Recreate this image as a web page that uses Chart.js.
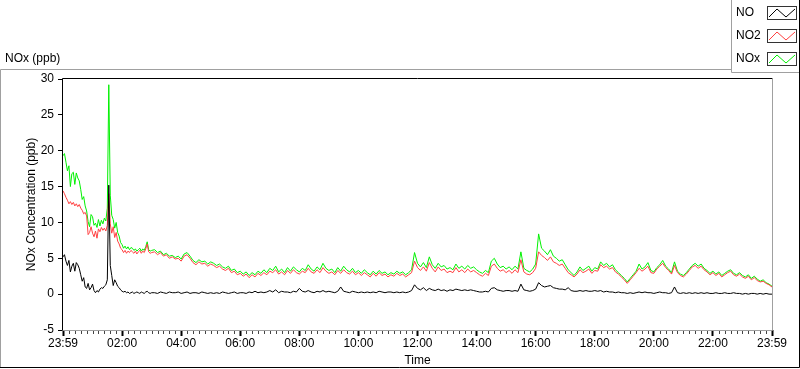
<!DOCTYPE html>
<html>
<head>
<meta charset="utf-8">
<title>NOx (ppb)</title>
<script src="https://cdn.jsdelivr.net/npm/chart.js@4.4.1/dist/chart.umd.min.js"></script>
<style>
    html, body { margin: 0; padding: 0; background: #fff; }
    #noxChart { display: block; }
</style>
</head>
<body>
<canvas id="noxChart" width="800" height="369"></canvas>
<script>
// x values are hours after 23:59 (0 .. 24)
// first 3 hours read every 3 min, the rest every 6 min
const earlyStep = 0.05;
const lateStart = 3.1;
const lateStep = 0.1;

const seriesNames = ["NO", "NO2", "NOx"];
const seriesColors = ["#000000", "#ff4040", "#00f000"];

const noEarly = [
    5.2, 5.5, 4.6, 4.0, 4.7, 3.1, 3.9, 4.3, 3.2, 4.4,
    4.1, 3.6, 2.7, 1.8, 2.3, 1.0, 0.8, 1.5, 0.6, 0.9,
    1.4, 0.5, 0.2, 0.5, 0.3, 0.7, 0.9, 0.8, 1.1, 1.3,
    2.0, 15.2, 4.0, 2.6, 1.2, 2.0, 1.6, 1.1, 0.9, 0.6,
    0.4, 0.3, 0.4, 0.2, 0.3, 0.1, 0.2, 0.3, 0.1, 0.2,
    0.3, 0.2, 0.1, 0.3, 0.2, 0.1, 0.3, 0.4, 0.2, 0.1,
    0.2
];
const no2Early = [
    14.4, 14.0, 13.5, 13.1, 12.6, 12.9, 12.5, 12.8, 12.3, 12.6,
    12.2, 12.5, 12.0, 11.7, 11.2, 11.4, 10.9, 8.3, 8.6, 9.4,
    8.5, 8.0, 8.8, 7.8, 9.1, 8.7, 9.3, 8.9, 9.2, 8.8,
    9.6, 14.0, 9.8, 8.5, 9.4, 7.9, 8.6, 7.4, 7.0, 6.4,
    6.2, 5.8, 6.1, 5.7, 6.0, 5.8, 6.1, 5.9, 5.7, 6.0,
    5.6, 5.9, 6.1, 5.7, 6.0, 5.8, 6.3, 7.0, 5.9, 5.7,
    5.8
];
const noxEarly = [
    19.3, 19.6, 18.4, 17.2, 17.9, 15.0, 16.8, 17.0, 15.3, 16.9,
    16.2, 15.8, 14.6, 13.2, 13.6, 12.3, 11.6, 10.1, 9.4, 11.1,
    10.8, 9.6, 9.9, 9.3, 10.4, 9.5, 10.3, 9.8, 10.6, 10.2,
    12.0, 29.2, 13.8, 11.0, 10.4, 9.2, 10.0, 8.6, 8.1, 7.2,
    6.9, 6.4, 6.7, 6.3, 6.6, 6.2, 6.5, 6.4, 6.1, 6.3,
    6.0, 6.2, 6.4, 6.0, 6.3, 6.1, 6.6, 7.3, 6.2, 6.0,
    6.1
];

// one row per hour, 3.1 .. 24.0
const noLate = [
    0.2, 0.1, 0.3, 0.2, 0.1, 0.3, 0.2, 0.2, 0.3, 0.1,
    0.2, 0.3, 0.1, 0.2, 0.2, 0.1, 0.3, 0.2, 0.1, 0.2,
    0.1, 0.2, 0.1, 0.3, 0.2, 0.1, 0.2, 0.3, 0.1, 0.2,
    0.2, 0.1, 0.3, 0.2, 0.4, 0.2, 0.3, 0.2, 0.3, 0.5,
    0.3, 0.6, 0.2, 0.4, 0.3, 0.3, 0.2, 0.4, 0.3, 0.8,
    0.4, 0.3, 0.5, 0.3, 0.2, 0.4, 0.3, 0.5, 0.3, 0.4,
    0.3, 0.2, 0.4, 1.0, 0.4, 0.3, 0.2, 0.4, 0.3, 0.2,
    0.3, 0.2, 0.3, 0.2, 0.3, 0.2, 0.4, 0.3, 0.2, 0.3,
    0.3, 0.2, 0.3, 0.2, 0.3, 0.2, 0.3, 0.5, 1.3, 0.8,
    0.6, 0.9, 0.5, 0.8, 0.6, 0.5, 0.7, 0.5, 0.6, 0.4,
    0.6, 0.5, 0.7, 0.6, 0.5, 0.6, 0.5, 0.6, 0.5, 0.4,
    0.3, 0.3, 0.4, 0.3, 0.8, 0.9, 0.6, 0.5, 0.4, 0.5,
    0.5, 0.4, 0.5, 0.4, 1.4, 0.6, 0.5, 0.4, 0.5, 0.7,
    1.6, 1.2, 1.0, 1.1, 1.2, 0.9, 0.8, 0.7, 0.7, 0.6,
    0.9, 0.5, 0.4, 0.4, 0.5, 0.4, 0.5, 0.4, 0.4, 0.5,
    0.4, 0.5, 0.3, 0.4, 0.3, 0.3, 0.2, 0.3, 0.2, 0.2,
    0.1, 0.2, 0.1, 0.2, 0.3, 0.2, 0.3, 0.2, 0.2, 0.1,
    0.2, 0.3, 0.2, 0.2, 0.1, 0.2, 1.0, 0.2, 0.1, 0.2,
    0.1, 0.2, 0.1, 0.2, 0.1, 0.2, 0.1, 0.2, 0.1, 0.1,
    0.2, 0.1, 0.1, 0.2, 0.1, 0.1, 0.2, 0.1, 0.1, 0.0,
    0.1, 0.0, 0.1, 0.1, 0.0, 0.1, 0.0, 0.1, 0.0, 0.0
];
const no2Late = [
    5.9, 5.5, 5.8, 5.3, 5.5, 5.0, 5.2, 4.9, 5.0, 4.6,
    5.3, 5.5, 5.0, 4.4, 4.1, 4.5, 4.2, 4.3, 3.9, 4.2,
    4.0, 3.7, 3.9, 3.5, 3.3, 3.6, 3.0, 3.2, 2.7, 2.9,
    2.5, 2.8, 2.3, 2.7, 2.4, 2.9, 2.6, 3.0, 2.7, 3.2,
    3.0, 3.4, 2.8, 3.1, 2.7, 3.3, 2.9, 3.4, 3.0, 2.8,
    3.2, 3.0, 3.6, 3.1, 2.9, 3.4, 3.0, 3.7, 3.2, 2.9,
    3.1, 2.7, 3.3, 2.9, 3.4, 3.0, 2.8, 3.2, 2.7, 3.0,
    2.6, 3.0, 2.7, 2.4, 2.9, 2.5, 3.0, 2.6, 2.8, 2.4,
    2.7, 2.5, 2.9, 2.6, 2.8, 2.4, 2.7, 3.0, 4.6, 3.7,
    3.3, 3.8, 3.2, 4.4, 3.6, 3.1, 3.8, 3.3, 3.5, 3.0,
    3.2, 3.0, 3.7, 3.1, 3.4, 3.0, 3.5, 3.1, 3.3, 3.0,
    2.7, 2.5, 2.9, 2.6, 3.9, 4.2, 3.6, 3.2, 3.4, 3.0,
    3.3, 2.9, 3.4, 3.0, 4.8, 3.1, 2.8, 2.7, 3.0, 3.6,
    5.9, 5.4, 5.1, 4.7, 5.2, 4.5, 4.3, 4.0, 4.2, 3.6,
    3.0, 2.7, 2.4, 2.8, 3.4, 3.0, 3.2, 3.5, 2.9, 3.3,
    3.2, 4.1, 3.7, 3.9, 3.5, 3.7, 3.1, 2.8, 2.4, 2.0,
    1.5, 2.0, 2.5, 3.0, 3.6, 3.2, 3.5, 3.9, 3.0, 2.9,
    3.5, 3.9, 4.3, 3.7, 3.3, 2.8, 4.0, 3.0, 2.6, 2.4,
    2.8, 3.3, 3.8, 4.0, 3.6, 3.9, 3.4, 3.1, 2.7, 3.0,
    2.6, 2.9, 2.4, 2.7, 3.0, 3.2, 2.7, 2.5, 2.8, 2.4,
    2.2, 2.5, 2.0, 2.3, 1.9, 1.7, 1.8, 1.5, 1.3, 1.0
];
const noxLate = [
    6.2, 5.8, 6.0, 5.5, 5.7, 5.3, 5.4, 5.1, 5.3, 4.9,
    5.6, 5.8, 5.3, 4.7, 4.4, 4.8, 4.5, 4.6, 4.2, 4.5,
    4.3, 4.0, 4.2, 3.8, 3.6, 3.9, 3.3, 3.5, 3.0, 3.2,
    2.8, 3.1, 2.6, 3.0, 2.7, 3.2, 2.9, 3.4, 3.0, 3.6,
    3.3, 3.9, 3.1, 3.5, 3.0, 3.7, 3.2, 3.8, 3.4, 3.1,
    3.6, 3.3, 4.1, 3.5, 3.2, 3.8, 3.4, 4.3, 3.6, 3.3,
    3.5, 3.0, 3.7, 3.2, 3.9, 3.4, 3.1, 3.6, 3.0, 3.3,
    2.9, 3.4, 3.0, 2.7, 3.2, 2.8, 3.3, 2.9, 3.1, 2.7,
    3.0, 2.8, 3.2, 2.9, 3.1, 2.7, 3.0, 3.4, 5.8, 4.3,
    3.8, 4.4, 3.7, 5.2, 4.1, 3.6, 4.3, 3.8, 4.0, 3.5,
    3.7, 3.4, 4.2, 3.6, 3.9, 3.5, 4.0, 3.6, 3.8, 3.4,
    3.1, 2.9, 3.3, 3.0, 4.6, 5.0, 4.2, 3.7, 3.9, 3.5,
    3.8, 3.4, 3.9, 3.5, 5.9, 3.6, 3.3, 3.1, 3.5, 4.2,
    8.4, 6.4, 6.0, 5.5, 6.2, 5.3, 5.0, 4.6, 4.8, 4.1,
    3.4, 3.0, 2.6, 3.1, 3.8, 3.3, 3.6, 3.9, 3.2, 3.7,
    3.5, 4.5, 4.0, 4.3, 3.8, 4.1, 3.4, 3.0, 2.6, 2.2,
    1.7, 2.2, 2.7, 3.2, 4.2, 3.5, 3.8, 4.4, 3.3, 3.1,
    3.7, 4.1, 4.7, 3.9, 3.5, 3.0, 4.5, 3.2, 2.8, 2.6,
    3.0, 3.5, 4.0, 4.3, 3.9, 4.2, 3.6, 3.3, 2.9, 3.2,
    2.8, 3.1, 2.6, 2.9, 3.2, 3.4, 2.9, 2.7, 3.0, 2.6,
    2.4, 2.7, 2.2, 2.5, 2.1, 1.8, 2.0, 1.6, 1.4, 1.1
];

const timeTicks = [0, 2, 4, 6, 8, 10, 12, 14, 16, 18, 20, 22, 24];
const timeLabels = ["23:59", "02:00", "04:00", "06:00", "08:00", "10:00", "12:00",
    "14:00", "16:00", "18:00", "20:00", "22:00", "23:59"];
const minorPerMajor = 10;

const FONT = "'Liberation Sans', Arial, sans-serif";

function toPoints(early, late) {
    const pts = early.map((v, i) => ({ x: i * earlyStep, y: v }));
    late.forEach((v, i) => pts.push({ x: lateStart + i * lateStep, y: v }));
    return pts;
}

// LabVIEW style frame, plot box, minor ticks and legend
const labviewFrame = {
    id: "labviewFrame",
    afterDraw(chart) {
        const { ctx, chartArea: a } = chart;
        const xs = chart.scales.x;
        ctx.save();
        ctx.lineWidth = 1;

        // minor x ticks
        ctx.strokeStyle = "#444";
        ctx.beginPath();
        for (let i = 0; i < timeTicks.length - 1; i++) {
            const t0 = timeTicks[i], t1 = timeTicks[i + 1];
            for (let k = 1; k < minorPerMajor; k++) {
                const px = Math.round(xs.getPixelForValue(t0 + (t1 - t0) * k / minorPerMajor)) + 0.5;
                ctx.moveTo(px, a.bottom);
                ctx.lineTo(px, a.bottom + 4);
            }
        }
        ctx.stroke();

        // plot box: dark on top/left, grey on right/bottom
        const L = Math.round(a.left) - 0.5, T = Math.round(a.top) - 0.5;
        const R = Math.round(a.right) + 0.5, B = Math.round(a.bottom) + 0.5;
        ctx.strokeStyle = "#000";
        ctx.beginPath();
        ctx.moveTo(L, B); ctx.lineTo(L, T); ctx.lineTo(R, T);
        ctx.stroke();
        ctx.strokeStyle = "#a0a0a0";
        ctx.beginPath();
        ctx.moveTo(R, T); ctx.lineTo(R, B); ctx.lineTo(L, B);
        ctx.stroke();

        // outer frame
        ctx.strokeStyle = "#a0a0a0";
        ctx.beginPath();
        ctx.moveTo(0.5, 367); ctx.lineTo(0.5, 69.5); ctx.lineTo(731.5, 69.5);
        ctx.moveTo(731.5, 0); ctx.lineTo(731.5, 72.5); ctx.lineTo(799, 72.5);
        ctx.stroke();
        ctx.strokeStyle = "#000";
        ctx.beginPath();
        ctx.moveTo(799.5, 0); ctx.lineTo(799.5, 367.5); ctx.lineTo(0, 367.5);
        ctx.stroke();

        // legend
        ctx.font = "12px " + FONT;
        ctx.textBaseline = "middle";
        ctx.textAlign = "left";
        chart.data.datasets.forEach((ds, i) => {
            const cy = 13 + 23 * i;
            ctx.fillStyle = "#000";
            ctx.fillText(ds.label, 736, cy);
            ctx.strokeStyle = "#333";
            ctx.strokeRect(767.5, cy - 6.5, 29, 13);
            ctx.strokeStyle = ds.borderColor;
            ctx.beginPath();
            ctx.moveTo(769, cy + 4);
            ctx.lineTo(777, cy - 4);
            ctx.lineTo(786, cy + 4);
            ctx.lineTo(795, cy - 4);
            ctx.stroke();
        });
        ctx.restore();
    }
};

const seriesData = [toPoints(noEarly, noLate), toPoints(no2Early, no2Late), toPoints(noxEarly, noxLate)];

new Chart(document.getElementById("noxChart").getContext("2d"), {
    type: "line",
    data: {
        datasets: seriesNames.map((name, i) => ({
            label: name,
            data: seriesData[i],
            borderColor: seriesColors[i],
            borderWidth: 1,
            pointRadius: 0,
            tension: 0,
            fill: false
        }))
    },
    options: {
        responsive: false,
        animation: false,
        devicePixelRatio: 1,
        layout: { padding: { top: 0, right: 28, bottom: 0, left: 5 } },
        plugins: {
            legend: { display: false },
            tooltip: { enabled: false },
            title: {
                display: true,
                text: "NOx (ppb)",
                align: "start",
                color: "#000",
                font: { family: FONT, size: 12, weight: "normal" },
                padding: { top: 51, bottom: 13.6 }
            }
        },
        scales: {
            x: {
                type: "linear",
                min: 0,
                max: 24,
                afterBuildTicks: (scale) => { scale.ticks = timeTicks.map(v => ({ value: v })); },
                afterFit: (scale) => { scale.height = 39; },
                ticks: {
                    autoSkip: false,
                    maxRotation: 0,
                    padding: 0,
                    color: "#000",
                    font: { family: FONT, size: 12 },
                    callback: (v) => timeLabels[timeTicks.indexOf(v)]
                },
                grid: { drawOnChartArea: false, tickLength: 6, tickWidth: 2, tickColor: "#000" },
                border: { display: false },
                title: {
                    display: true,
                    text: "Time",
                    color: "#000",
                    font: { family: FONT, size: 12 },
                    padding: { top: 0, bottom: 1 }
                }
            },
            y: {
                min: -5,
                max: 30,
                afterFit: (scale) => { scale.width = 58; },
                ticks: {
                    stepSize: 5,
                    padding: 4,
                    color: "#000",
                    font: { family: FONT, size: 12 }
                },
                grid: { drawOnChartArea: false, tickLength: 5, tickWidth: 1, tickColor: "#000" },
                border: { display: false },
                title: {
                    display: true,
                    text: "NOx Concentration (ppb)",
                    color: "#000",
                    font: { family: FONT, size: 12 },
                    padding: { top: 19, bottom: 0 }
                }
            }
        }
    },
    plugins: [labviewFrame]
});
</script>
</body>
</html>
